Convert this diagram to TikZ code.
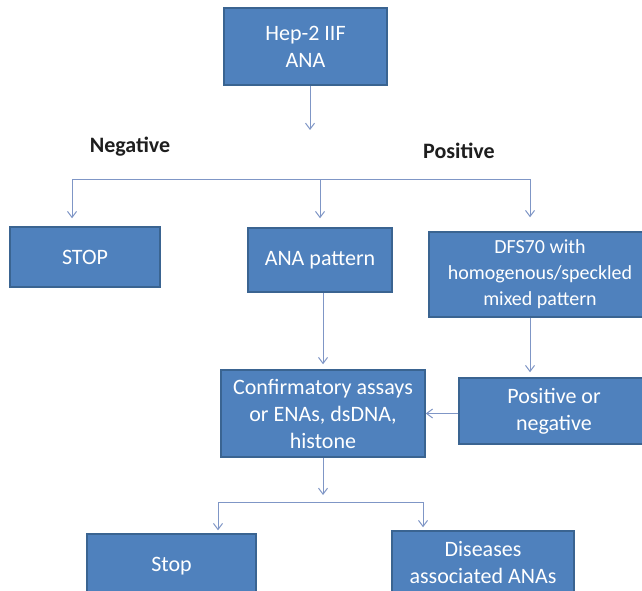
\documentclass[tikz,border=0pt]{standalone}
\usepackage{fontspec}
\setsansfont{Carlito}
\usetikzlibrary{arrows.meta,positioning}
\definecolor{anaFill}{HTML}{4F81BD}
\definecolor{anaEdge}{HTML}{3A6491}
\definecolor{anaLine}{HTML}{7F96C6}
\definecolor{anaInk}{HTML}{1E1E1E}

\begin{document}
\begin{tikzpicture}[x=1pt, y=-1pt,
  font=\sffamily\fontsize{22}{27}\selectfont,
  box/.style={draw=anaEdge, line width=1.5pt, fill=anaFill, text=white,
              align=center, inner sep=2pt},
  arr/.style={-{Straight Barb[length=6pt,width=9pt]}, line width=1pt, anaLine},
  link/.style={line width=1pt, anaLine},
  lab/.style={font=\sffamily\bfseries\fontsize{22}{27}\selectfont, text=anaInk}
]
  \clip (0,0) rectangle (642,591);
  \fill[white] (0,0) rectangle (642,591);

  \node[box, minimum width=163pt, minimum height=77pt] (hep) at (305.5,46.5) {Hep-2 IIF\\ANA};
  \node[box, minimum width=150pt, minimum height=60pt] (stopA) at (85,257) {STOP};
  \node[box, minimum width=144pt, minimum height=64pt] (pattern) at (320,260) {ANA pattern};
  \node[box, minimum width=222pt, minimum height=85pt, font=\sffamily\fontsize{20}{26}\selectfont] (dfs) at (540,274.5) {DFS70 with\\homogenous/speckled\\mixed pattern};
  \node[box, minimum width=204pt, minimum height=87pt] (confirm) at (323,413.5) {Confirmatory assays\\or ENAs, dsDNA,\\histone};
  \node[box, minimum width=190pt, minimum height=66pt] (posneg) at (554,411) {Positive or\\negative};
  \node[box, minimum width=169pt, minimum height=64pt] (stopB) at (171.5,566) {Stop};
  \node[box, minimum width=182pt, minimum height=64pt] (disease) at (483,563) {Diseases\\associated ANAs};

  \node[lab] (neg) at (130,147) {Negative};
  \node[lab] (pos) at (459,151) {Positive};

  % first split
  \coordinate (split1) at (310,130);
  \coordinate (barL) at (72,179);
  \coordinate (barR) at (530,179);
  \draw[arr] (hep.south -| split1) -- (split1);
  \draw[link] (barL) -- (barR);
  \draw[arr, shorten >=8pt] (barL) -- (barL |- stopA.north);
  \draw[arr, shorten >=9pt] (pattern.north |- barL) -- (pattern.north);
  \draw[arr, shorten >=14pt] (barR) -- (barR |- dfs.north);

  \draw[arr, shorten >=5pt] (pattern.south -| confirm.north) -- (confirm.north);
  \draw[arr, shorten >=5pt] (dfs.south -| barR) -- (posneg.north -| barR);
  \draw[arr] (posneg.west |- confirm) -- (confirm.east);

  % second split
  \coordinate (split2) at (323,495);
  \coordinate (fork2L) at (218,502);
  \coordinate (fork2R) at (423,502);
  \draw[arr] (confirm.south) -- (split2);
  \draw[link] (fork2L) -- (fork2R);
  \draw[arr, shorten >=3pt] (fork2L) -- (fork2L |- stopB.north);
  \draw[arr, shorten >=3pt] (fork2R) -- (fork2R |- disease.north);
\end{tikzpicture}
\end{document}
